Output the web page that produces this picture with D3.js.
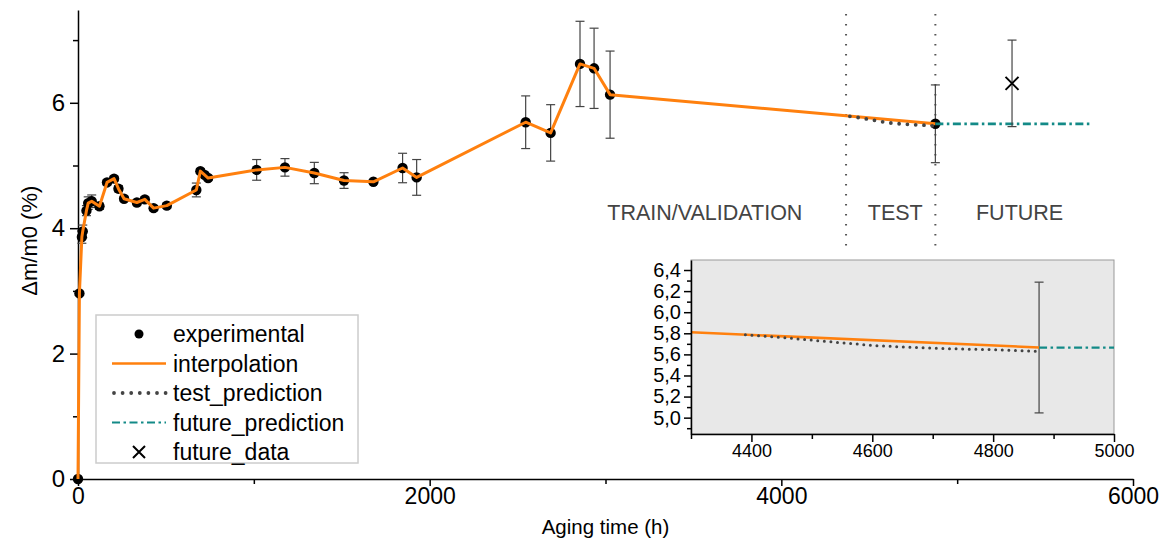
<!DOCTYPE html>
<html>
<head>
<meta charset="utf-8">
<script src="https://cdn.jsdelivr.net/npm/d3@7"></script>
<style>
  body { margin: 0; background: #fff; }
  svg { display: block; font-family: "Liberation Sans", Arial, sans-serif; }
</style>
</head>
<body>
<div id="chart"></div>
<script>
// experimental points: [aging time (h), dm/m0 (%), error]
var expTime = [0, 8, 22, 27, 48, 58, 78, 122, 165, 205, 230, 262, 335, 380, 430, 505,
  673, 696, 720, 740, 1016, 1177, 1344, 1513, 1680, 1846, 1926,
  2546, 2688, 2855, 2935, 3026, 4876];
var expValue = [0, 2.96, 3.86, 3.95, 4.28, 4.40, 4.43, 4.35, 4.73, 4.79, 4.63, 4.47, 4.41, 4.46, 4.32, 4.36,
  4.61, 4.91, 4.85, 4.80, 4.93, 4.97, 4.88, 4.76, 4.74, 4.96, 4.81,
  5.69, 5.52, 6.62, 6.55, 6.13, 5.665];
var expError = [0, 0.03, 0.1, 0.1, 0.08, 0.1, 0.1, 0.05, 0.04, 0.04, 0.05, 0.04, 0.04, 0.04, 0.04, 0.04,
  0.11, 0.04, 0.04, 0.04, 0.165, 0.14, 0.17, 0.125, 0.03, 0.235, 0.285,
  0.42, 0.45, 0.68, 0.64, 0.695, 0.62];

var testTime = [4390, 4450, 4500, 4550, 4600, 4650, 4700, 4750, 4800, 4872];
var testValue = [5.785, 5.76, 5.735, 5.71, 5.685, 5.67, 5.66, 5.65, 5.645, 5.63];

var futurePredTime = [4876, 5770];
var futurePredValue = [5.665, 5.665];

var futureDataTime = [5312];
var futureDataValue = [6.31];
var futureDataError = [0.69];

var boundaries = [4368, 4876];
var regionLabels = ["TRAIN/VALIDATION", "TEST", "FUTURE"];
var regionCenters = [3565, 4648, 5355];

var xMajor = [0, 2000, 4000, 6000], xMinor = [1000, 3000, 5000];
var yMajor = [0, 2, 4, 6], yMinor = [1, 3, 5, 7];
var insetXMajor = [4400, 4600, 4800, 5000], insetXMinor = [4300, 4500, 4700, 4900];
var insetYMajor = [5.0, 5.2, 5.4, 5.6, 5.8, 6.0, 6.2, 6.4];
var insetYMinor = [4.9, 5.1, 5.3, 5.5, 5.7, 5.9, 6.1, 6.3];

var legendLabels = ["experimental", "interpolation", "test_prediction", "future_prediction", "future_data"];

var ORANGE = "#ff800e", TEAL = "#138a87", DOTS = "#444", ERR = "#444";

var W = 1167, H = 544;
var svg = d3.select("#chart").append("svg").attr("width", W).attr("height", H);

var x = d3.scaleLinear().domain([0, 6000]).range([78, 1133]);
var y = d3.scaleLinear().domain([0, 7.48]).range([479, 10]);

var expData = expTime.map((t, i) => ({ t: t, v: expValue[i], e: expError[i] }));
var testData = testTime.map((t, i) => ({ t: t, v: testValue[i] }));
var futData = futurePredTime.map((t, i) => ({ t: t, v: futurePredValue[i] }));

// region separators and labels
svg.selectAll("line.sep").data(boundaries).enter().append("line")
  .attr("class", "sep")
  .attr("x1", d => x(d)).attr("x2", d => x(d))
  .attr("y1", 14).attr("y2", 248)
  .attr("stroke", "#555").attr("stroke-width", 2)
  .attr("stroke-dasharray", "1.5,8.5");

svg.selectAll("text.region").data(regionLabels).enter().append("text")
  .attr("class", "region")
  .attr("x", (d, i) => x(regionCenters[i]))
  .attr("y", 220)
  .attr("text-anchor", "middle")
  .attr("font-size", 21.5)
  .attr("fill", "#444")
  .text(d => d);

// axes
var gx = svg.append("g").attr("transform", "translate(0,479)");
gx.append("g").call(d3.axisBottom(x).tickValues(xMinor).tickSize(5).tickSizeOuter(0).tickFormat(""))
  .call(g => g.select(".domain").remove())
  .call(g => g.selectAll(".tick line").attr("stroke-width", 1.5));
gx.append("g").call(d3.axisBottom(x).tickValues(xMajor).tickSize(7).tickSizeOuter(0).tickPadding(2).tickFormat(d3.format("d")))
  .call(g => g.select(".domain").attr("stroke-width", 1.5))
  .call(g => g.selectAll(".tick line").attr("stroke-width", 1.5))
  .call(g => g.selectAll("text").attr("font-size", 23).attr("font-family", "Liberation Sans, Arial").attr("fill", "#000"));

var gy = svg.append("g").attr("transform", "translate(78,0)");
gy.append("g").call(d3.axisLeft(y).tickValues(yMinor).tickSize(5).tickSizeOuter(0).tickFormat(""))
  .call(g => g.select(".domain").remove())
  .call(g => g.selectAll(".tick line").attr("stroke-width", 1.5));
gy.append("g").call(d3.axisLeft(y).tickValues(yMajor).tickSize(8).tickSizeOuter(0).tickPadding(5).tickFormat(d3.format("d")))
  .call(g => g.select(".domain").attr("stroke-width", 1.5))
  .call(g => g.selectAll(".tick line").attr("stroke-width", 1.5))
  .call(g => g.selectAll("text").attr("font-size", 24).attr("font-family", "Liberation Sans, Arial").attr("fill", "#000"));

svg.append("text")
  .attr("x", x(3000)).attr("y", 534)
  .attr("text-anchor", "middle").attr("font-size", 20.5)
  .text("Aging time (h)");

svg.append("text")
  .attr("transform", "translate(37," + y(3.8) + ") rotate(-90)")
  .attr("text-anchor", "middle").attr("font-size", 22)
  .text("\u0394m/m0 (%)");

// error bars
function errorBars(g, data, xs, ys, cap) {
  var eb = g.selectAll("g.eb").data(data.filter(d => d.e > 0)).enter().append("g").attr("class", "eb")
    .attr("stroke", ERR).attr("stroke-width", 1.2);
  eb.append("line").attr("x1", d => xs(d.t)).attr("x2", d => xs(d.t))
    .attr("y1", d => ys(d.v - d.e)).attr("y2", d => ys(d.v + d.e));
  eb.append("line").attr("x1", d => xs(d.t) - cap).attr("x2", d => xs(d.t) + cap)
    .attr("y1", d => ys(d.v - d.e)).attr("y2", d => ys(d.v - d.e));
  eb.append("line").attr("x1", d => xs(d.t) - cap).attr("x2", d => xs(d.t) + cap)
    .attr("y1", d => ys(d.v + d.e)).attr("y2", d => ys(d.v + d.e));
}

var main = svg.append("g");
errorBars(main, expData, x, y, 4.5);

main.selectAll("circle.exp").data(expData).enter().append("circle")
  .attr("class", "exp")
  .attr("cx", d => x(d.t)).attr("cy", d => y(d.v)).attr("r", 5.2).attr("fill", "#000");

var line = (xs, ys) => d3.line().x(d => xs(d.t)).y(d => ys(d.v));

main.append("path").datum(expData)
  .attr("d", line(x, y)).attr("fill", "none")
  .attr("stroke", ORANGE).attr("stroke-width", 3).attr("stroke-linejoin", "round");

main.append("path").datum(testData)
  .attr("d", line(x, y)).attr("fill", "none")
  .attr("stroke", DOTS).attr("stroke-width", 3.8).attr("stroke-linecap", "round")
  .attr("stroke-dasharray", "0,8.3");

main.append("path").datum(futData)
  .attr("d", line(x, y)).attr("fill", "none")
  .attr("stroke", TEAL).attr("stroke-width", 2.8)
  .attr("stroke-dasharray", "8,3.5,2.5,3.5");

// future data with error bar
var fd = futureDataTime.map((t, i) => ({ t: t, v: futureDataValue[i], e: futureDataError[i] }));
errorBars(main.append("g"), fd, x, y, 4.5);
main.selectAll("path.fx").data(fd).enter().append("path")
  .attr("class", "fx")
  .attr("transform", d => "translate(" + x(d.t) + "," + y(d.v) + ")")
  .attr("d", "M-6.5,-6.5L6.5,6.5M-6.5,6.5L6.5,-6.5")
  .attr("stroke", "#000").attr("stroke-width", 2);

// legend
var lg = svg.append("g").attr("transform", "translate(96,315)");
lg.append("rect").attr("width", 262).attr("height", 148)
  .attr("fill", "#fff").attr("stroke", "#ccc").attr("stroke-width", 1.5);
var rowH = 29.5, ly0 = 19;
lg.selectAll("text").data(legendLabels).enter().append("text")
  .attr("x", 77).attr("y", (d, i) => ly0 + i * rowH + 8)
  .attr("font-size", 23).text(d => d);
lg.append("circle").attr("cx", 43).attr("cy", ly0).attr("r", 4.5).attr("fill", "#000");
lg.append("line").attr("x1", 16).attr("x2", 70).attr("y1", ly0 + rowH).attr("y2", ly0 + rowH)
  .attr("stroke", ORANGE).attr("stroke-width", 2.5);
lg.append("line").attr("x1", 18).attr("x2", 70).attr("y1", ly0 + 2 * rowH).attr("y2", ly0 + 2 * rowH)
  .attr("stroke", DOTS).attr("stroke-width", 3.8).attr("stroke-linecap", "round").attr("stroke-dasharray", "0,8.6");
lg.append("line").attr("x1", 16).attr("x2", 70).attr("y1", ly0 + 3 * rowH).attr("y2", ly0 + 3 * rowH)
  .attr("stroke", TEAL).attr("stroke-width", 2.2).attr("stroke-dasharray", "8,3.5,2.5,3.5");
lg.append("path").attr("transform", "translate(43," + (ly0 + 4 * rowH) + ")")
  .attr("d", "M-6,-6L6,6M-6,6L6,-6").attr("stroke", "#000").attr("stroke-width", 2);

// inset
var xi = d3.scaleLinear().domain([4300, 5000]).range([691, 1114]);
var yi = d3.scaleLinear().domain([4.845, 6.495]).range([434, 260]);
var commaFmt = d => d3.format(".1f")(d).replace(".", ",");

var inset = svg.append("g");
inset.append("rect").attr("x", 691).attr("y", 260).attr("width", 423).attr("height", 174)
  .attr("fill", "#e8e8e8").attr("stroke", "#999").attr("stroke-width", 1);
svg.append("clipPath").attr("id", "insetClip").append("rect")
  .attr("x", 691).attr("y", 260).attr("width", 423).attr("height", 174);

var ic = inset.append("g").attr("clip-path", "url(#insetClip)");
errorBars(ic, expData.filter(d => d.t >= 4300), xi, yi, 4.5);
ic.append("path").datum(expData)
  .attr("d", line(xi, yi)).attr("fill", "none")
  .attr("stroke", ORANGE).attr("stroke-width", 2.5);
ic.append("path").datum(testData)
  .attr("d", line(xi, yi)).attr("fill", "none")
  .attr("stroke", DOTS).attr("stroke-width", 3).attr("stroke-linecap", "round")
  .attr("stroke-dasharray", "0,6.6");
ic.append("path").datum(futData)
  .attr("d", line(xi, yi)).attr("fill", "none")
  .attr("stroke", TEAL).attr("stroke-width", 2.2)
  .attr("stroke-dasharray", "8,3.5,2.5,3.5");

var ix = inset.append("g").attr("transform", "translate(0,434)");
ix.append("g").call(d3.axisBottom(xi).tickValues(insetXMinor).tickSize(5).tickFormat(""))
  .call(g => g.select(".domain").remove())
  .call(g => g.selectAll(".tick line").attr("stroke-width", 1.5));
ix.append("g").call(d3.axisBottom(xi).tickValues(insetXMajor).tickSize(8).tickSizeOuter(0).tickPadding(2).tickFormat(d3.format("d")))
  .call(g => g.select(".domain").attr("stroke-width", 1.5))
  .call(g => g.selectAll(".tick line").attr("stroke-width", 1.5))
  .call(g => g.selectAll("text").attr("font-size", 18).attr("font-family", "Liberation Sans, Arial").attr("fill", "#000"));

var iy = inset.append("g").attr("transform", "translate(691,0)");
iy.append("g").call(d3.axisLeft(yi).tickValues(insetYMinor).tickSize(4).tickFormat(""))
  .call(g => g.select(".domain").remove())
  .call(g => g.selectAll(".tick line").attr("stroke-width", 1.5));
iy.append("g").call(d3.axisLeft(yi).tickValues(insetYMajor).tickSize(7).tickSizeOuter(0).tickPadding(3).tickFormat(commaFmt))
  .call(g => g.select(".domain").attr("stroke-width", 1.5))
  .call(g => g.selectAll(".tick line").attr("stroke-width", 1.5))
  .call(g => g.selectAll("text").attr("font-size", 20).attr("font-family", "Liberation Sans, Arial").attr("fill", "#000"));
</script>
</body>
</html>
